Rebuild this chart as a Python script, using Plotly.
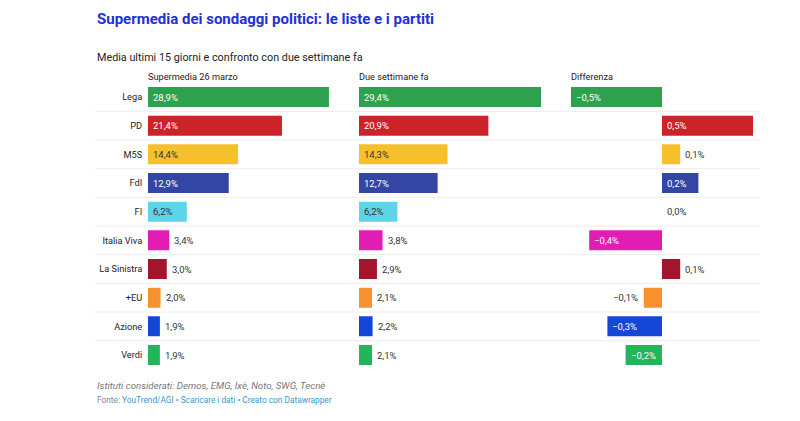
import plotly.graph_objects as go

# ---------------- data ----------------
parties = ["Lega", "PD", "M5S", "FdI", "FI", "Italia Viva", "La Sinistra", "+EU", "Azione", "Verdi"]
supermedia = [28.9, 21.4, 14.4, 12.9, 6.2, 3.4, 3.0, 2.0, 1.9, 1.9]
due_settimane = [29.4, 20.9, 14.3, 12.7, 6.2, 3.8, 2.9, 2.1, 2.2, 2.1]
differenza = [-0.5, 0.5, 0.1, 0.2, 0.0, -0.4, 0.1, -0.1, -0.3, -0.2]
colors = ["#2ca24f", "#cc2229", "#f5c02c", "#3446a4", "#5fd3e8",
          "#e21db4", "#a3152c", "#f7922e", "#1446d8", "#21b65a"]
dark_text = {"M5S", "FI"}

col_headers = ["Supermedia 26 marzo", "Due settimane fa", "Differenza"]
title = "Supermedia dei sondaggi politici: le liste e i partiti"
subtitle = "Media ultimi 15 giorni e confronto con due settimane fa"
note = "Istituti considerati: Demos, EMG, Ixè, Noto, SWG, Tecnè"

W, H = 800, 421
FONT = "Roboto, Arial, sans-serif"


def px(x):
    return x / W


def py(y):
    return 1 - y / H


def fmt(v):
    s = f"{abs(v):.1f}".replace(".", ",") + "%"
    if v < 0:
        s = "\u2212" + s
    return s


fig = go.Figure()

cols = [
    ("x", supermedia, [148, 330], [0, 182 / 6.26], 6.0),
    ("x2", due_settimane, [359, 541], [0, 29.4], 6.0),
    ("x3", differenza, [571, 753], [-0.5, 0.5], 0.15),
]

VSIZE = 9.5
annotations = []
for ax, vals, dom, rng, thr in cols:
    fig.add_trace(go.Bar(
        x=vals, y=parties, orientation="h", xaxis=ax, yaxis="y",
        marker=dict(color=colors, line=dict(width=0)),
        hoverinfo="skip", showlegend=False,
    ))
    for p, v, c in zip(parties, vals, colors):
        label = fmt(v)
        if abs(v) >= thr:
            annotations.append(dict(
                x=min(0, v), y=p, xref=ax, yref="y", text=label,
                xanchor="left", xshift=3, showarrow=False,
                font=dict(family=FONT, size=VSIZE,
                          color="#333333" if p in dark_text else "#ffffff")))
        elif v < 0:
            annotations.append(dict(
                x=v, y=p, xref=ax, yref="y", text=label,
                xanchor="right", xshift=-4, showarrow=False,
                font=dict(family=FONT, size=VSIZE, color="#333333")))
        else:
            annotations.append(dict(
                x=v, y=p, xref=ax, yref="y", text=label,
                xanchor="left", xshift=3, showarrow=False,
                font=dict(family=FONT, size=VSIZE, color="#333333")))

# column headers
for (ax, vals, dom, rng, thr), h in zip(cols, col_headers):
    annotations.append(dict(x=px(dom[0] - 2), y=py(77), xref="paper", yref="paper",
                            text=h, xanchor="left", yanchor="middle", showarrow=False,
                            font=dict(family=FONT, size=9.2, color="#222222")))

# title, subtitle, footer
annotations += [
    dict(x=px(95), y=py(19), xref="paper", yref="paper", text=f"<b>{title}</b>",
         xanchor="left", yanchor="middle", showarrow=False,
         font=dict(family=FONT, size=15, color="#2230d8")),
    dict(x=px(95), y=py(57), xref="paper", yref="paper", text=subtitle,
         xanchor="left", yanchor="middle", showarrow=False,
         font=dict(family=FONT, size=10.8, color="#222222")),
    dict(x=px(95), y=py(385), xref="paper", yref="paper", text=f"<i>{note}</i>",
         xanchor="left", yanchor="middle", showarrow=False,
         font=dict(family=FONT, size=9.7, color="#777777")),
    dict(x=px(95), y=py(400), xref="paper", yref="paper",
         text="Fonte: <span style='color:#3b98c9'>YouTrend/AGI</span>"
              "<span style='color:#3b98c9'> • Scaricare i dati • Creato con Datawrapper</span>",
         xanchor="left", yanchor="middle", showarrow=False,
         font=dict(family=FONT, size=8.3, color="#888888")),
]

# row separators
shapes = []
for i in range(len(parties) - 1):
    shapes.append(dict(type="line", xref="paper", yref="y",
                       x0=px(95), x1=px(760), y0=i + 0.5, y1=i + 0.5,
                       line=dict(color="#ececec", width=1), layer="below"))

row_top, row_bot = 97 - 14.33, 355 + 14.33
axis_common = dict(showgrid=False, zeroline=False, showticklabels=False,
                   showline=False, fixedrange=True)
fig.update_layout(
    width=W, height=H,
    margin=dict(l=0, r=0, t=0, b=0),
    paper_bgcolor="white", plot_bgcolor="white",
    bargap=0.3,
    xaxis=dict(domain=[px(148), px(330)], range=cols[0][3], anchor="y", **axis_common),
    xaxis2=dict(domain=[px(359), px(541)], range=cols[1][3], anchor="y", **axis_common),
    xaxis3=dict(domain=[px(571), px(753)], range=cols[2][3], anchor="y", **axis_common),
    yaxis=dict(domain=[py(row_bot), py(row_top)], range=[len(parties) - 0.5, -0.5],
               type="category", anchor="x", showgrid=False, zeroline=False,
               showline=False, ticks="outside", ticklen=3, tickcolor="rgba(0,0,0,0)",
               tickfont=dict(family=FONT, size=9.2, color="#222222"), fixedrange=True),
    annotations=annotations,
    shapes=shapes,
)

fig.write_html("out.html")
